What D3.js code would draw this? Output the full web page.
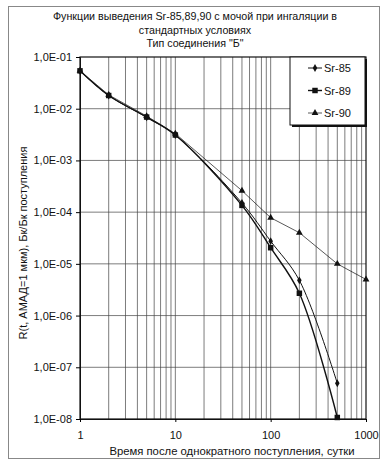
<!DOCTYPE html>
<html><head><meta charset="utf-8">
<script src="https://cdn.jsdelivr.net/npm/d3@7"></script>
<style>
body{margin:0;background:#fff;}
svg text{font-family:"Liberation Sans",Arial,sans-serif;fill:#111;}
</style></head>
<body><svg id="c" width="387" height="466"></svg>
<script>
const titleLines = ["Функции выведения Sr-85,89,90 с мочой при ингаляции в","стандартных условиях","Тип соединения \"Б\""];
const xTitle = "Время после однократного поступления, сутки";
const yTitle = "R(t, АМАД=1 мкм), Бк/Бк поступления";
const xTicks = [1,10,100,1000];
const yTicks = [1e-1,1e-2,1e-3,1e-4,1e-5,1e-6,1e-7,1e-8];
const yTickLabels = ["1,0E-01","1,0E-02","1,0E-03","1,0E-04","1,0E-05","1,0E-06","1,0E-07","1,0E-08"];
const seriesNames = ["Sr-85","Sr-89","Sr-90"];
const days85 = [1,2,5,10,50,100,200,500];
const sr85 = [0.054,0.018,0.0068,0.0031,1.5e-4,2.75e-5,4.8e-6,4.9e-8];
const days89 = [1,2,5,10,50,100,200,500];
const sr89 = [0.054,0.018,0.0069,0.0031,1.35e-4,2.05e-5,2.7e-6,1.07e-8];
const days90 = [1,2,5,10,50,100,200,500,1000];
const sr90 = [0.054,0.0185,0.0072,0.0033,2.6e-4,7.8e-5,4.0e-5,1.0e-5,5.0e-6];

const svg = d3.select("#c");
const L=80,R=366,T=57,B=419;
const x = d3.scaleLog().domain([1,1000]).range([L,R]);
const y = d3.scaleLog().domain([1e-8,1e-1]).range([B,T]);

// outer frame
svg.append("rect").attr("x",8.5).attr("y",6.5).attr("width",371).attr("height",452)
  .attr("fill","none").attr("stroke","#888").attr("stroke-width",1);

// title
titleLines.forEach((t,i)=>svg.append("text").attr("x",195).attr("y",20+i*13.5)
  .attr("text-anchor","middle").attr("font-size",10.7).text(t));

// grid
const minorX=[];
for(let d=1; d<1000; d*=10) for(let k=1;k<10;k++) minorX.push(d*k);
const g = svg.append("g");
g.selectAll("line.vx").data(minorX.filter(v=>v>1&&v<1000)).join("line")
  .attr("x1",d=>x(d)).attr("x2",d=>x(d)).attr("y1",T).attr("y2",B)
  .attr("stroke","#444").attr("stroke-width",0.7);
g.selectAll("line.hy").data(yTicks.filter(v=>v>1e-8&&v<1e-1)).join("line")
  .attr("x1",L).attr("x2",R).attr("y1",d=>y(d)).attr("y2",d=>y(d))
  .attr("stroke","#444").attr("stroke-width",0.7);

// plot frame
svg.append("rect").attr("x",L).attr("y",T).attr("width",R-L).attr("height",B-T)
  .attr("fill","none").attr("stroke","#111").attr("stroke-width",1.2);

// axes
const yAxis = d3.axisLeft(y).tickValues(yTicks).tickSize(4).tickFormat((d,i)=>yTickLabels[i]);
const ya = svg.append("g").attr("transform",`translate(${L},0)`).call(yAxis);
ya.select(".domain").attr("stroke","#111");
ya.selectAll("text").attr("font-size",11).attr("font-family","Liberation Sans, Arial, sans-serif").attr("fill","#111").attr("dx",-1);
const xAxis = d3.axisBottom(x).tickValues(xTicks).tickSize(3).tickFormat(d3.format("d"));
const xa = svg.append("g").attr("transform",`translate(0,${B})`).call(xAxis);
xa.select(".domain").attr("stroke","#111");
xa.selectAll("text").attr("font-size",11).attr("font-family","Liberation Sans, Arial, sans-serif").attr("fill","#111").attr("dy","1.3em");

svg.append("text").attr("x",232).attr("y",455).attr("text-anchor","middle").attr("font-size",11.3).text(xTitle);
svg.append("text").attr("transform","translate(27,243) rotate(-90)").attr("text-anchor","middle").attr("font-size",11).text(yTitle);

// series
const sData = [
  {name:seriesNames[0], pts:days85.map((d,i)=>[d,sr85[i]]), curve:d3.curveCatmullRom.alpha(0.5), w:1, marker:"diamond"},
  {name:seriesNames[1], pts:days89.map((d,i)=>[d,sr89[i]]), curve:d3.curveCatmullRom.alpha(0.5), w:1.4, marker:"square"},
  {name:seriesNames[2], pts:days90.map((d,i)=>[d,sr90[i]]), curve:d3.curveLinear, w:0.7, marker:"triangle"}
];
const sym = {diamond:d3.symbol().type(d3.symbolDiamond).size(18),
             square:d3.symbol().type(d3.symbolSquare).size(30),
             triangle:d3.symbol().type(d3.symbolTriangle).size(20)};
sData.forEach(s=>{
  const line = d3.line().x(d=>x(d[0])).y(d=>y(d[1])).curve(s.curve);
  svg.append("path").attr("d",line(s.pts)).attr("fill","none").attr("stroke","#111").attr("stroke-width",s.w);
  svg.selectAll(null).data(s.pts).join("path").attr("d",sym[s.marker])
    .attr("transform",d=>`translate(${x(d[0])},${y(d[1])})`).attr("fill","#111");
});

// legend
const lg = svg.append("g");
lg.append("rect").attr("x",292).attr("y",59).attr("width",75).attr("height",68).attr("fill","#111");
lg.append("rect").attr("x",290).attr("y",57).attr("width",75).attr("height",68).attr("fill","#fff").attr("stroke","#111").attr("stroke-width",1);
sData.forEach((s,i)=>{
  const yy = 68+i*22.5;
  lg.append("line").attr("x1",308).attr("x2",322).attr("y1",yy).attr("y2",yy).attr("stroke","#111").attr("stroke-width",s.w);
  lg.append("path").attr("d",sym[s.marker]).attr("transform",`translate(315,${yy})`).attr("fill","#111");
  lg.append("text").attr("x",324).attr("y",yy+4).attr("font-size",11).text(s.name);
});
</script></body></html>
